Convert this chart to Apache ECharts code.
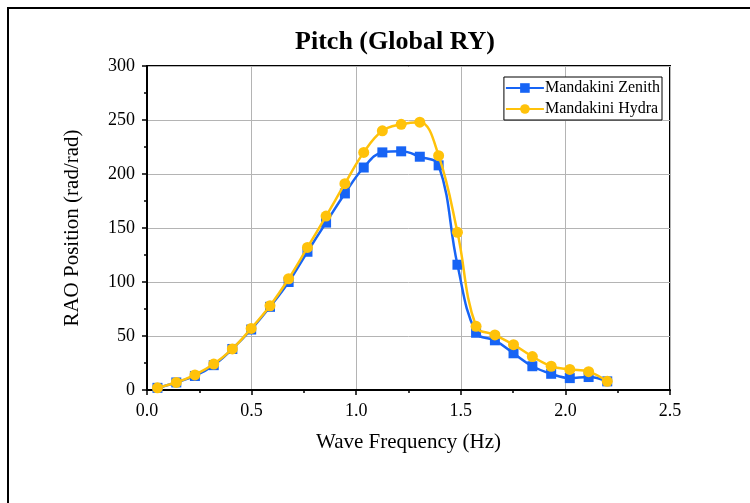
<!DOCTYPE html>
<html>
<head>
<meta charset="utf-8">
<script src="https://cdn.jsdelivr.net/npm/echarts@6/dist/echarts.min.js"></script>
<style>
html,body{margin:0;padding:0;background:#fff;}
#c{width:750px;height:503px;}
</style>
</head>
<body>
<div id="c"></div>
<script>
var freq = [0.05, 0.14, 0.229, 0.319, 0.408, 0.498, 0.588, 0.677, 0.767, 0.856, 0.946, 1.036, 1.125, 1.215, 1.304, 1.394, 1.484, 1.573, 1.663, 1.752, 1.842, 1.932, 2.021, 2.111, 2.20];
var zenith = [2, 7, 13, 23, 38, 56, 77, 100, 128, 155, 182, 206, 220, 221, 216, 208, 116, 53, 46, 34, 22, 15, 11, 12, 8];
var hydra = [2, 7, 14, 24, 38, 57, 78, 103, 132, 161, 191, 220, 240, 246, 248, 217, 146, 59, 51, 42, 31, 22, 19, 17, 8];
var xTicks = [0.0, 0.5, 1.0, 1.5, 2.0, 2.5];
var yTicks = [0, 50, 100, 150, 200, 250, 300];
var seriesNames = ['Mandakini Zenith', 'Mandakini Hydra'];

var FONT = '"Liberation Serif","Times New Roman",serif';
function pairs(xs, ys) { return xs.map(function (x, i) { return [x, ys[i]]; }); }

var chart = echarts.init(document.getElementById('c'), null, {renderer: 'canvas'});
chart.setOption({
  animation: false,
  backgroundColor: '#fff',
  textStyle: {fontFamily: FONT},
  graphic: [
    {type: 'rect', shape: {x: 8, y: 8, width: 800, height: 600}, style: {fill: 'none', stroke: '#000', lineWidth: 2}, silent: true, z: -1},
    {type: 'text', x: 395, y: 42, style: {text: 'Pitch (Global RY)', font: 'bold 26px ' + FONT, fill: '#000', textAlign: 'center', textVerticalAlign: 'middle'}}
  ],
  grid: {left: 147, right: 80, top: 66, bottom: 113, show: true, borderColor: '#000', borderWidth: 2, backgroundColor: 'transparent'},
  legend: {
    right: 88, top: 77, orient: 'vertical',
    data: seriesNames,
    itemWidth: 38, itemHeight: 12, itemGap: 5,
    padding: [3, 2, 3, 1],
    borderColor: '#000', borderWidth: 1, backgroundColor: '#fff',
    textStyle: {fontFamily: FONT, fontSize: 16, color: '#000', padding: [0, 0, 0, -4]}
  },
  xAxis: {
    type: 'value', min: 0, max: 2.5, interval: 0.5,
    name: 'Wave Frequency (Hz)', nameLocation: 'middle', nameGap: 42,
    nameTextStyle: {fontFamily: FONT, fontSize: 21, color: '#000'},
    axisLine: {show: true, onZero: false, lineStyle: {color: '#000', width: 2}},
    axisTick: {show: true, inside: false, length: 5, lineStyle: {color: '#000', width: 1.5}},
    minorTick: {show: true, splitNumber: 2, length: 3, lineStyle: {color: '#000', width: 1.5}},
    axisLabel: {fontFamily: FONT, fontSize: 18, color: '#000', margin: 12, formatter: function (v) { return v.toFixed(1); }},
    splitLine: {show: true, lineStyle: {color: '#b4b4b4', width: 1}}
  },
  yAxis: {
    type: 'value', min: 0, max: 300, interval: 50,
    name: 'RAO Position (rad/rad)', nameLocation: 'middle', nameGap: 64,
    nameTextStyle: {fontFamily: FONT, fontSize: 21, color: '#000'},
    axisLine: {show: true, onZero: false, lineStyle: {color: '#000', width: 2}},
    axisTick: {show: true, inside: false, length: 5, lineStyle: {color: '#000', width: 1.5}},
    minorTick: {show: true, splitNumber: 2, length: 3, lineStyle: {color: '#000', width: 1.5}},
    axisLabel: {fontFamily: FONT, fontSize: 18, color: '#000', margin: 12},
    splitLine: {show: true, lineStyle: {color: '#b4b4b4', width: 1}}
  },
  series: [
    {
      name: seriesNames[0], type: 'line', data: pairs(freq, zenith),
      smooth: 0.4, symbol: 'rect', symbolSize: 10,
      itemStyle: {color: '#1764f5'}, lineStyle: {color: '#1764f5', width: 2.5}, z: 2
    },
    {
      name: seriesNames[1], type: 'line', data: pairs(freq, hydra),
      smooth: 0.4, symbol: 'circle', symbolSize: 11,
      itemStyle: {color: '#ffc20a'}, lineStyle: {color: '#ffc20a', width: 2.5}, z: 3
    }
  ]
});
</script>
</body>
</html>
